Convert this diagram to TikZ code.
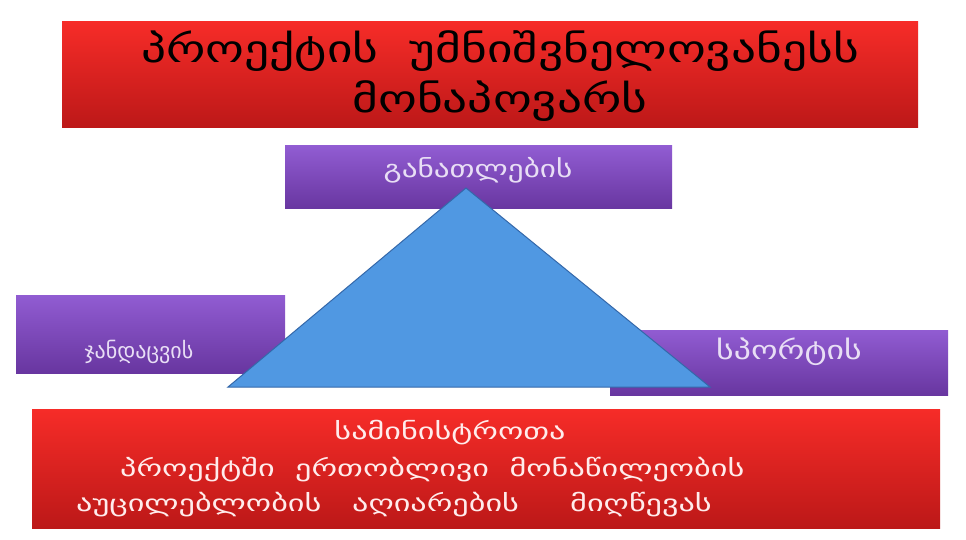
\documentclass[tikz,border=0pt]{standalone}
\usepackage{fontspec}
\setmainfont{DejaVu Sans}
\newfontfamily\wideA[FakeStretch=1.3]{DejaVu Sans}
\newfontfamily\wideC[FakeStretch=1.4]{DejaVu Sans}
\definecolor{redtop}{RGB}{246,44,40}
\definecolor{redbot}{RGB}{188,24,24}
\definecolor{purtop}{RGB}{145,92,210}
\definecolor{purbot}{RGB}{104,54,160}
\definecolor{trifill}{RGB}{80,152,226}
\definecolor{triedge}{RGB}{52,104,170}
\definecolor{lav}{RGB}{232,222,245}
\definecolor{pinkw}{RGB}{255,236,236}
\begin{document}
\begin{tikzpicture}[x=1pt,y=-1pt,
  redbox/.style={top color=redtop,bottom color=redbot,draw=none,inner sep=0pt},
  purbox/.style={top color=purtop,bottom color=purbot,draw=none,inner sep=0pt},
  purtext/.style={text=lav,inner sep=0pt},
  redtext/.style={text=pinkw,font=\wideC\fontsize{23}{27}\selectfont,inner sep=0pt},
  titletext/.style={text=black,font=\wideA\fontsize{38}{50}\selectfont,inner sep=0pt,align=center}]
\useasboundingbox (0,0) rectangle (966,540);
\fill[white] (0,0) rectangle (966,540);
% boxes
\node[redbox,minimum width=856pt,minimum height=106pt] (title) at (490,75) {};
\node[titletext] (titlet) at (500,76) {პროექტის\ \ უმნიშვნელოვანესს\\მონაპოვარს};
\node[purbox,minimum width=387pt,minimum height=63pt] (edu) at (478.5,177.5) {};
\node[purtext,font=\wideA\fontsize{24}{28}\selectfont] (edut) at (478,170) {განათლების};
\node[purbox,minimum width=269pt,minimum height=78pt] (health) at (150.5,334) {};
\node[purtext,font=\fontsize{22}{26}\selectfont] (healtht) at (139,352) {ჯანდაცვის};
\node[purbox,minimum width=338pt,minimum height=65pt] (sport) at (779,362.5) {};
\node[purtext,font=\wideA\fontsize{26}{30}\selectfont] (sportt) at (789,352) {სპორტის};
\node[redbox,minimum width=908pt,minimum height=119pt] (bottom) at (486,468.5) {};
\node[redtext] (b1) at (450,433) {სამინისტროთა};
\node[redtext,anchor=west] (b2) at (120,470) {პროექტში\ \ ერთობლივი\ \ მონაწილეობის};
\node[redtext,anchor=west] (b3) at (76,505) {აუცილებლობის\ \ \ აღიარების\ \ \ \ \ მიღწევას};
% triangle
\coordinate (apex) at (466,188);
\coordinate (bl) at (228,387);
\coordinate (br) at (710,387);
\filldraw[fill=trifill,draw=triedge,line width=1pt] (apex) -- (bl) -- (br) -- cycle;
\end{tikzpicture}
\end{document}
